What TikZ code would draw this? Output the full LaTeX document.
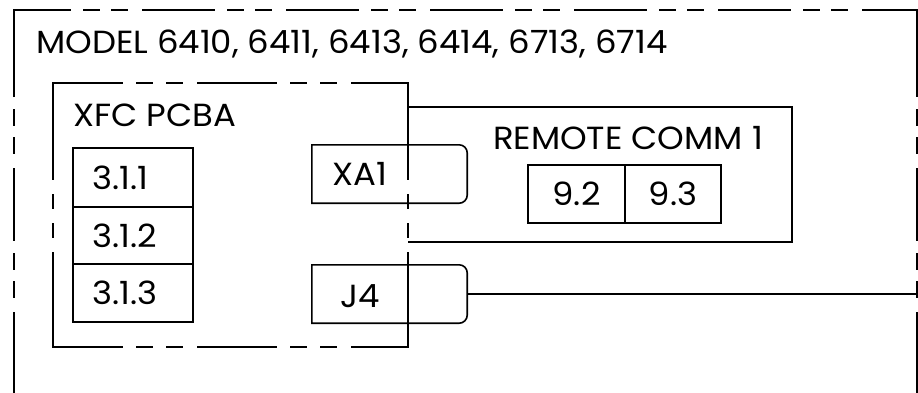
\documentclass[tikz,border=0pt]{standalone}
\usepackage{fontspec}
\setmainfont{Poppins}[FakeStretch=1.06]
\begin{document}
\begin{tikzpicture}[x=1pt,y=-1pt,
  lw/.style={line width=1.6pt},
  lbl/.style={font=\fontsize{32}{38}\selectfont, inner sep=0pt},
  cell/.style={draw, lw, inner sep=0pt, minimum width=120pt, minimum height=58pt},
  rcell/.style={draw, lw, inner sep=0pt, minimum width=97pt, minimum height=58pt, font=\fontsize{32}{38}\selectfont},
  frame/.style={inner sep=0pt, draw=none},
  odash/.style={lw, dash pattern=on 73pt off 12pt on 17pt off 11pt on 17pt off 14pt},
  xdashh/.style={lw, dash pattern=on 80pt off 13pt on 17pt off 13pt on 17pt off 14pt},
  xdashv/.style={lw, dash pattern=on 97pt off 14pt on 15pt off 14pt on 15pt off 14pt},
  wire/.style={line width=1.3pt}]
\useasboundingbox (0,0) rectangle (918,392);
\clip (0,0) rectangle (918,392);

% outer dashed frame (bottom edge lies below the view)
\draw[odash, dash phase=16pt] (14,10) -- (917,10);
\draw[odash] (14,24) -- (14,400);
\draw[odash] (917,24) -- (917,400);
\draw[lw] (14,97) -- (14,10) -- (71,10);
\draw[lw] (862,10) -- (917,10) -- (917,97);
\draw[lw] (14,312) -- (14,400);
\draw[lw] (917,312) -- (917,400);
\node[lbl, anchor=base west] (title) at (36,53) {MODEL 6410, 6411, 6413, 6414, 6713, 6714};

% XFC PCBA dashed frame
\draw[xdashh, dash phase=10pt] (53,83) -- (408,83);
\draw[xdashh, dash phase=10pt] (53,347) -- (408,347);
\draw[xdashv] (53,83) -- (53,347);
\draw[xdashv] (408,83) -- (408,347);
\draw[lw] (53,120) -- (53,83) -- (100,83);
\draw[lw] (53,310) -- (53,347) -- (100,347);
\draw[lw] (408,120) -- (408,83) -- (370,83);
\draw[lw] (408,310) -- (408,347) -- (370,347);
\node[lbl, anchor=base west] (xfc) at (73,126) {XFC PCBA};

% 3.1.x cells
\node[cell, minimum height=59pt] (c1) at (133,177.5) {};
\node[cell, minimum height=57pt] (c2) at (133,235.5) {};
\node[cell, minimum height=58pt] (c3) at (133,293) {};
\node[lbl, anchor=west] (c1t) at ([xshift=20pt]c1.west) {3.1.1};
\node[lbl, anchor=west] (c2t) at ([xshift=20pt]c2.west) {3.1.2};
\node[lbl, anchor=west] (c3t) at ([xshift=20pt]c3.west) {3.1.3};

% REMOTE COMM 1 (open on the left)
\node[frame, minimum width=384pt, minimum height=135pt] (rc) at (600,174.5) {};
\draw[lw] (rc.north west) -- (rc.north east) -- (rc.south east) -- (rc.south west);
\node[lbl, anchor=base] (rct) at (628,149) {REMOTE COMM 1};
\node[rcell] (r92) at (576.5,194) {9.2};
\node[rcell, minimum width=96pt] (r93) at (673,194) {9.3};

% connectors XA1 and J4
\node[frame, minimum width=155pt, minimum height=58pt] (xa1) at (389.5,174) {};
\draw[lw] (xa1.north west) -- ([xshift=-30pt]xa1.north east) [rounded corners=8pt] -- (xa1.north east) -- (xa1.south east) -- ([xshift=-30pt]xa1.south east) [sharp corners] -- (xa1.south west) -- cycle;
\node[lbl] (xa1t) at (360,174) {XA1};

\node[frame, minimum width=155pt, minimum height=58pt] (j4) at (389.5,294) {};
\draw[lw] (j4.north west) -- ([xshift=-30pt]j4.north east) [rounded corners=8pt] -- (j4.north east) -- (j4.south east) -- ([xshift=-30pt]j4.south east) [sharp corners] -- (j4.south west) -- cycle;
\node[lbl] (j4t) at (360,296) {J4};

% J4 wire to the outer frame
\coordinate (wend) at (917,294);
\draw[wire] (j4.east) -- (wend);
\end{tikzpicture}
\end{document}
